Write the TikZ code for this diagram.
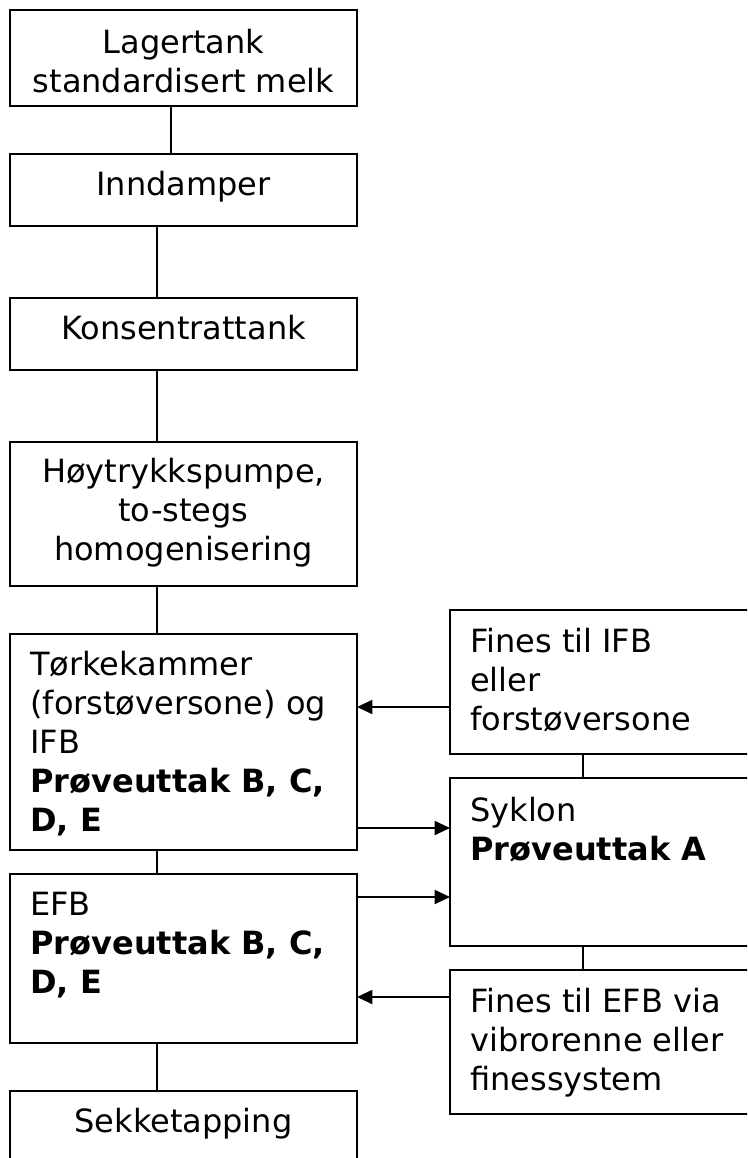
\documentclass[tikz,border=0pt]{standalone}
\usepackage{fontspec}
\setmainfont{DejaVu Sans}
\usetikzlibrary{arrows.meta}
\begin{document}
\begin{tikzpicture}[x=0.75pt,y=-0.75pt,
  box/.style={draw,line width=1.4pt,inner sep=0pt,outer sep=0pt,anchor=north west,minimum width=#1*0.75pt},
  box/.default=347,
  conn/.style={line width=1.4pt},
  arr/.style={line width=1.4pt,-{Triangle[length=11.5pt,width=10.5pt]}},
  txt/.style={inner sep=0pt,font=\fontsize{24pt}{29.25pt}\selectfont},
  ctxt/.style={txt,align=center,anchor=base},
  ltxt/.style={txt,align=left,anchor=base west}]
\useasboundingbox (0,0) rectangle (747,1158);
\clip (0,0) rectangle (747,1158);
% boxes
\node[box,minimum height=72pt] (b1) at (10,10) {};
\node[box,minimum height=54pt] (b2) at (10,154) {};
\node[box,minimum height=54pt] (b3) at (10,298) {};
\node[box,minimum height=108pt] (b4) at (10,442) {};
\node[box,minimum height=162pt] (b5) at (10,634) {};
\node[box,minimum height=126.75pt] (b6) at (10,874) {};
\node[box,minimum height=75pt] (b7) at (10,1091) {};
\node[box=330,minimum height=108pt] (r1) at (450,610) {};
\node[box=330,minimum height=126pt] (r2) at (450,778) {};
\node[box=330,minimum height=108pt] (r3) at (450,970) {};
% texts (anchored at the baseline of the last line)
\node[ctxt] (t1) at (183.5,92) {Lagertank\\standardisert melk};
\node[ctxt] (t2) at (183.5,195) {Inndamper};
\node[ctxt] (t3) at (183.5,339) {Konsentrattank};
\node[ctxt] (t4) at (183.5,560) {Høytrykkspumpe,\\to-stegs\\homogenisering};
\node[ltxt] (t5) at (30,831) {Tørkekammer\\(forstøversone) og\\IFB\\\textbf{Prøveuttak B, C,}\\\textbf{D, E}};
\node[ltxt] (t6) at (30,993) {EFB\\\textbf{Prøveuttak B, C,}\\\textbf{D, E}};
\node[ctxt] (t7) at (183.5,1132) {Sekketapping};
\node[ltxt] (u1) at (470,730) {Fines til IFB\\eller\\forstøversone};
\node[ltxt] (u2) at (470,860) {Syklon\\\textbf{Prøveuttak A}};
\node[ltxt] (u3) at (470,1090) {Fines til EFB via\\vibrorenne eller\\finessystem};
% helper coordinates
\coordinate (tc) at (171,0);
\coordinate (lc) at (157,0);
\coordinate (rc) at (583,0);
\coordinate (y1) at (0,707);
\coordinate (y2) at (0,828);
\coordinate (y3) at (0,897);
\coordinate (y4) at (0,997);
% connectors
\draw[conn] (b1.south -| tc) -- (b2.north -| tc);
\draw[conn] (b2.south -| lc) -- (b3.north -| lc);
\draw[conn] (b3.south -| lc) -- (b4.north -| lc);
\draw[conn] (b4.south -| lc) -- (b5.north -| lc);
\draw[conn] (b5.south -| lc) -- (b6.north -| lc);
\draw[conn] (b6.south -| lc) -- (b7.north -| lc);
\draw[conn] (r1.south -| rc) -- (r2.north -| rc);
\draw[conn] (r2.south -| rc) -- (r3.north -| rc);
\draw[arr] (r1.west |- y1) -- (b5.east |- y1);
\draw[arr] (b5.east |- y2) -- (r2.west |- y2);
\draw[arr] (b6.east |- y3) -- (r2.west |- y3);
\draw[arr] (r3.west |- y4) -- (b6.east |- y4);
\end{tikzpicture}
\end{document}
